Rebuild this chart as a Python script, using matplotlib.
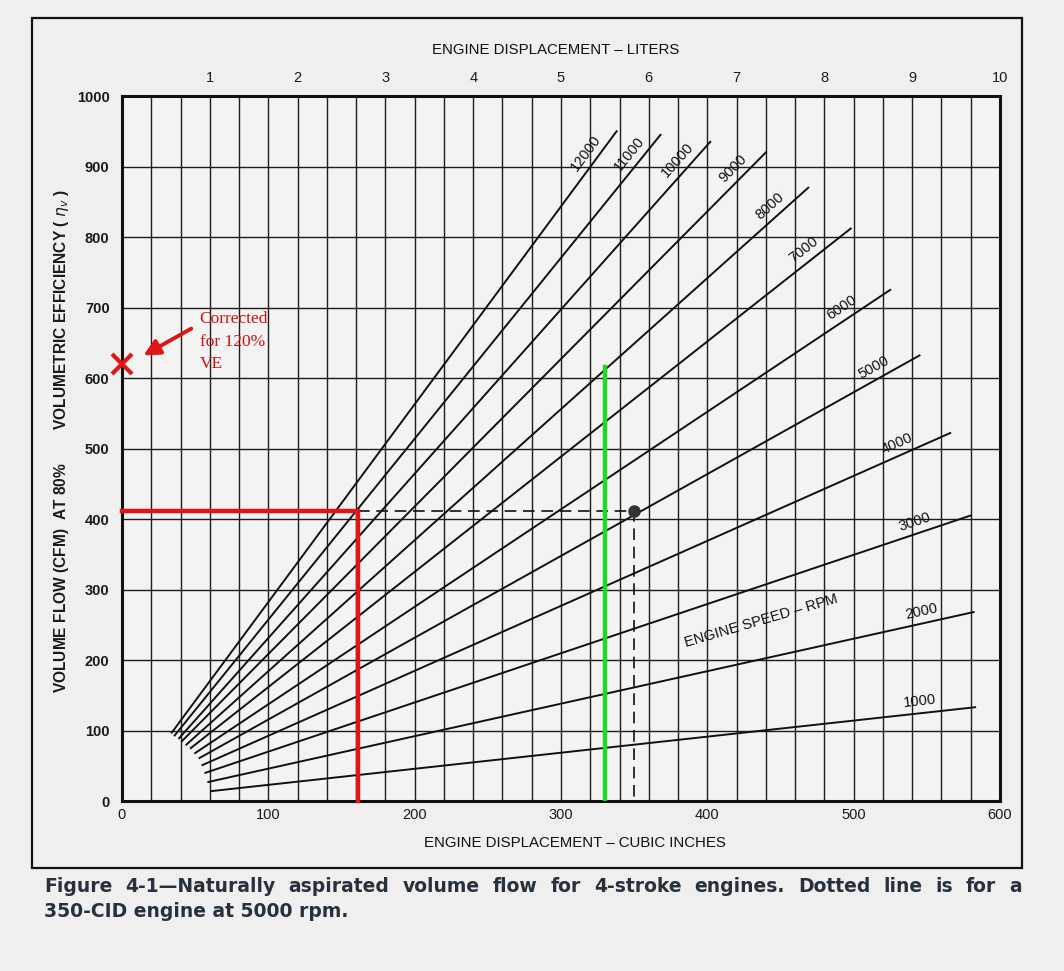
import matplotlib
matplotlib.use("Agg")
import matplotlib.pyplot as plt
import matplotlib.patches as mpatches
import numpy as np

# engine speed lines (start / end points in CID, CFM)
rpm = [12000, 11000, 10000, 9000, 8000, 7000, 6000, 5000, 4000, 3000, 2000, 1000]
start_ci = [34, 36, 39, 41, 44, 47, 50, 53, 55, 57, 59, 61]
start_cfm = [97, 93, 89, 85, 80, 75, 68, 61, 51, 40, 27, 14]
end_ci = [338, 368, 402, 440, 469, 498, 525, 545, 566, 580, 582, 583]
end_cfm = [950, 945, 935, 920, 870, 812, 725, 632, 522, 405, 268, 133]

ci_ticks = [0, 100, 200, 300, 400, 500, 600]
cfm_ticks = [0, 100, 200, 300, 400, 500, 600, 700, 800, 900, 1000]
liter_ticks = [1, 2, 3, 4, 5, 6, 7, 8, 9, 10]
CI_PER_LITER = 60

# hand-drawn worked example on top of the chart
example_ci, example_cfm = 350, 412      # dotted line, 350 CID at 5000 rpm
red_ci, red_cfm = 161, 411
green_ci, green_cfm = 330, 615
corrected_cfm = 620

# how far back from the line end each rpm label sits (pixels)
label_back_px = [36, 34, 35, 34, 41, 50, 50, 46, 53, 55, 51, 54]

plt.rcParams['font.family'] = ['Liberation Sans', 'DejaVu Sans']

W, H = 1064, 971
fig = plt.figure(figsize=(W / 100, H / 100), dpi=100, facecolor='#efefef')
ax = fig.add_axes([122 / W, 1 - 801 / H, 878 / W, 705 / H])
ax.set_facecolor('#f3f3f3')
ax.set_xlim(0, 600)
ax.set_ylim(0, 1000)

# grid: every 20 CID, every 100 CFM
ax.vlines(np.arange(20, 600, 20), 0, 1000, color='#1c1c1c', lw=1.0, zorder=1)
ax.hlines(np.arange(100, 1000, 100), 0, 600, color='#1c1c1c', lw=1.0, zorder=1)

for sp in ax.spines.values():
    sp.set_linewidth(2.2)
    sp.set_color('#111111')

ax.set_xticks(ci_ticks)
ax.set_yticks(cfm_ticks)
ax.tick_params(length=0)
ax.tick_params(axis='x', pad=5, labelsize=10.5, colors='#1a1a1a')
ax.tick_params(axis='y', pad=9, labelsize=10.5, colors='#1a1a1a')
for lab in ax.get_yticklabels():
    lab.set_fontweight('bold')

top = ax.secondary_xaxis('top', functions=(lambda x: x / CI_PER_LITER,
                                           lambda l: l * CI_PER_LITER))
top.set_xticks(liter_ticks)
top.tick_params(length=0, pad=8, labelsize=10.5, colors='#1a1a1a')
top.spines['top'].set_visible(False)

# rpm lines
for x0, y0, x1, y1 in zip(start_ci, start_cfm, end_ci, end_cfm):
    ax.plot([x0, x1], [y0, y1], color='#111111', lw=1.4, zorder=3)

# rpm labels along each line
inv = ax.transData.inverted()
for r, x0, y0, x1, y1, back in zip(rpm, start_ci, start_cfm, end_ci, end_cfm, label_back_px):
    p0 = ax.transData.transform((x0, y0))
    p1 = ax.transData.transform((x1, y1))
    d = (p1 - p0) / np.hypot(*(p1 - p0))
    n = np.array([-d[1], d[0]])
    c = p1 - d * back + n * 12
    cx, cy = inv.transform(c)
    ang = np.degrees(np.arctan2(d[1], d[0]))
    ax.text(cx, cy, str(r), rotation=ang, rotation_mode='anchor',
            ha='center', va='center', fontsize=10.5, color='#111111', zorder=4)

ax.text(437, 256, 'ENGINE SPEED \u2013 RPM', rotation=16.3, rotation_mode='anchor',
        ha='center', va='center', fontsize=10.5, color='#111111', zorder=4)

# worked example
red = '#e01515'
ax.plot([0, red_ci, red_ci], [red_cfm, red_cfm, 0], color=red, lw=3.2,
        solid_joinstyle='miter', zorder=5, clip_on=False)
ax.plot([green_ci, green_ci], [0, green_cfm], color='#22d822', lw=3.2, zorder=5)
ax.plot([red_ci, example_ci, example_ci], [red_cfm, red_cfm, 0], color='#111111',
        lw=1.2, dashes=(7, 4), zorder=4)
ax.plot(example_ci, example_cfm, 'o', color='#333333', ms=8, zorder=6)

ax.plot(0, corrected_cfm, marker='x', ms=15, mew=3, color=red, clip_on=False, zorder=7)
ax.annotate('', xy=(13, 630), xytext=(49, 672),
            arrowprops=dict(arrowstyle='-|>', color=red, lw=2.8, mutation_scale=24),
            annotation_clip=False, zorder=7)
ax.text(53, 695, 'Corrected\nfor 120%\nVE', ha='left', va='top', fontsize=12.5,
        family=['Liberation Serif', 'DejaVu Serif'], color='#d01010',
        linespacing=1.55, zorder=7)

# axis titles
fig.text(575 / W, 1 - 843 / H, 'ENGINE DISPLACEMENT \u2013 CUBIC INCHES',
         ha='center', va='center', fontsize=10.8, color='#111111')
fig.text(556 / W, 1 - 50 / H, 'ENGINE DISPLACEMENT \u2013 LITERS',
         ha='center', va='center', fontsize=10.8, color='#111111')
fig.text(62 / W, 1 - 441 / H,
         'VOLUME FLOW (CFM)  AT 80%        VOLUMETRIC EFFICIENCY ( $\\eta_v$ )',
         rotation=90, ha='center', va='center', fontsize=11.2,
         fontweight='bold', color='#1a1a1a')

# outer frame
fig.add_artist(mpatches.Rectangle((32 / W, 1 - 868 / H), 990 / W, 850 / H,
                                  transform=fig.transFigure, fill=False,
                                  lw=1.6, edgecolor='#111111'))

# caption, first line justified between the frame edges
cap_color = '#27313d'
cap_font = dict(fontsize=13.5, fontweight='bold', color=cap_color,
                family='DejaVu Sans', va='baseline', ha='left')
line1 = ('Figure 4-1\u2014Naturally aspirated volume flow for 4-stroke engines. '
         'Dotted line is for a').split(' ')
line2 = '350-CID engine at 5000 rpm.'
renderer = fig.canvas.get_renderer()
x_left, x_right, y1_px, y2_px = 44, 1022, 892, 917
words = [fig.text(0, 0, w, **cap_font) for w in line1]
widths = [t.get_window_extent(renderer).width for t in words]
gap = (x_right - x_left - sum(widths)) / (len(words) - 1)
x = x_left
for t, w in zip(words, widths):
    t.set_position((x / W, 1 - y1_px / H))
    x += w + gap
fig.text(x_left / W, 1 - y2_px / H, line2, **cap_font)

fig.savefig('out.png', dpi=100, facecolor=fig.get_facecolor())
